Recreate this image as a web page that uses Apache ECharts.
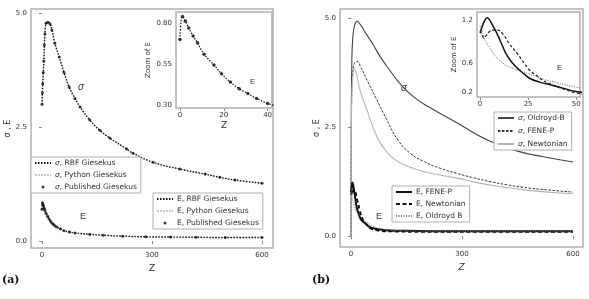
<!DOCTYPE html>
<html>
<head>
<meta charset="utf-8">
<script src="https://cdn.jsdelivr.net/npm/echarts@6/dist/echarts.min.js"></script>
<style>
  html, body { margin: 0; padding: 0; background: #fff; }
  #chart { width: 589px; height: 299px; }
</style>
</head>
<body>
<div id="chart"></div>
<script>
// ---- panel (a): Giesekus, RBF vs Python vs published ----
const aSigmaZ = [0, 1, 2, 3.5, 5, 6.5, 8, 11, 16, 22, 27, 35, 47, 60, 74, 90, 104, 130, 158, 185, 231, 248, 303, 376, 445, 485, 526, 600];
const aSigma = [3.0, 3.25, 3.45, 3.7, 3.95, 4.3, 4.55, 4.78, 4.8, 4.76, 4.63, 4.34, 4.04, 3.7, 3.38, 3.13, 2.94, 2.66, 2.43, 2.26, 2.02, 1.93, 1.73, 1.58, 1.47, 1.40, 1.34, 1.27];
const aEZ = [0, 1.2, 2.5, 4, 6, 8, 11, 15.5, 19, 23, 27, 31, 35, 40, 50, 60, 75, 90, 130, 167, 220, 283, 350, 420, 500, 600];
const aE = [0.70, 0.84, 0.81, 0.77, 0.72, 0.68, 0.61, 0.544, 0.49, 0.44, 0.40, 0.37, 0.34, 0.31, 0.27, 0.23, 0.20, 0.18, 0.15, 0.13, 0.11, 0.095, 0.09, 0.085, 0.08, 0.08];

// ---- panel (b): Oldroyd-B / FENE-P / Newtonian ----
const bSigOldZ = [0, 0.5, 2, 5, 10, 16, 25, 40, 59, 80, 105, 132, 168, 213, 286, 370, 450, 520, 600];
const bSigOld = [0, 2.5, 4.0, 4.6, 4.85, 4.93, 4.85, 4.65, 4.4, 4.1, 3.8, 3.5, 3.2, 2.95, 2.6, 2.2, 1.95, 1.82, 1.70];
const bSigFeneZ = [0, 0.5, 2, 5, 10, 16, 25, 43, 70, 97, 127, 160, 195, 240, 286, 330, 376, 420, 465, 530, 600];
const bSigFene = [0, 2.0, 3.3, 3.8, 3.98, 4.01, 3.9, 3.58, 3.12, 2.66, 2.2, 1.9, 1.72, 1.56, 1.44, 1.34, 1.25, 1.18, 1.12, 1.06, 1.01];
const bSigNewtZ = [0, 0.5, 2, 5, 8, 15, 24, 43, 59, 78, 100, 124, 160, 195, 240, 286, 330, 376, 480, 600];
const bSigNewt = [0, 2.0, 3.3, 3.7, 3.85, 3.7, 3.35, 2.89, 2.5, 2.15, 1.9, 1.72, 1.58, 1.48, 1.4, 1.33, 1.25, 1.17, 1.05, 0.97];

const bEFeneZ = [0, 1, 2, 3.7, 6, 9, 11.5, 14, 17, 19.5, 23, 26, 31, 37, 44, 50, 60, 80, 105, 150, 250, 400, 600];
const bEFene = [1.02, 1.1, 1.17, 1.23, 1.15, 1.0, 0.85, 0.71, 0.6, 0.53, 0.45, 0.39, 0.34, 0.30, 0.25, 0.21, 0.18, 0.15, 0.13, 0.12, 0.11, 0.11, 0.11];
const bENewtZ = [0, 1, 2, 3, 5, 7, 9, 12, 15, 19.5, 23, 26, 30, 33, 38, 44, 50, 60, 80, 105, 200, 400, 600];
const bENewt = [1.05, 1.0, 0.95, 0.98, 1.04, 1.06, 1.06, 1.0, 0.88, 0.73, 0.6, 0.50, 0.42, 0.36, 0.30, 0.24, 0.19, 0.15, 0.12, 0.11, 0.1, 0.1, 0.1];
const bEOldZ = [0, 1, 2, 3, 5, 8, 12, 17, 22.6, 28, 33, 40, 50, 60, 80, 105, 150, 250, 600];
const bEOld = [1.12, 1.05, 0.97, 0.9, 0.82, 0.7, 0.6, 0.53, 0.48, 0.43, 0.38, 0.33, 0.27, 0.22, 0.17, 0.14, 0.12, 0.11, 0.11];

// tick labels
const aXTicks = [0, 300, 600];
const aYTicks = [0, 2.5, 5];
const aInsetXTicks = [0, 20, 40];
const aInsetYTicks = [0.30, 0.55, 0.80];
const bXTicks = [0, 300, 600];
const bYTicks = [0, 2.5, 5];
const bInsetXTicks = [0, 25, 50];
const bInsetYTicks = [0.2, 0.6, 1.2];

const zip = (xs, ys) => xs.map((x, i) => [x, ys[i]]);

const FRAME = "#b0b0b0";
const TXT = "#333";
// small dot for the "Published" legend entries
const DOT_ICON = "image://data:image/svg+xml;charset=utf-8," + encodeURIComponent(
  '<svg xmlns="http://www.w3.org/2000/svg" width="16" height="7"><circle cx="8" cy="3.5" r="1.5" fill="#111"/></svg>');

function xAx(grid, min, max, ticks, name, nameGap, italic) {
  return {
    gridIndex: grid, type: "value", min: min, max: max,
    axisLine: { show: false }, splitLine: { show: false },
    axisTick: { customValues: ticks, length: 3, lineStyle: { color: "#888" } },
    axisLabel: { customValues: ticks, fontSize: 7, color: TXT, margin: 4 },
    name: name, nameLocation: "middle", nameGap: nameGap,
    nameTextStyle: { fontSize: 9, color: TXT, fontStyle: italic ? "italic" : "normal" },
  };
}
function yAx(grid, min, max, ticks, digits, name, nameGap, nameSize) {
  return {
    gridIndex: grid, type: "value", min: min, max: max,
    axisLine: { show: false }, splitLine: { show: false },
    axisTick: { customValues: ticks, length: 3, lineStyle: { color: "#888" } },
    axisLabel: { customValues: ticks, fontSize: 7, color: TXT, margin: 4,
      formatter: (v) => v.toFixed(digits) },
    name: name, nameLocation: "middle", nameGap: nameGap, nameRotate: 90,
    nameTextStyle: { fontSize: nameSize, color: TXT },
  };
}
// line entries: hide the symbol ECharts puts in the middle of the line icon
const lineItem = (n) => ({ name: n, itemStyle: { opacity: 0 } });
const dotItem = (n) => ({ name: n, icon: DOT_ICON });

function legendBox(left, top, items, gap) {
  return {
    orient: "vertical", left: left, top: top, data: items,
    itemWidth: 16, itemHeight: 7, itemGap: gap, padding: [2, 4, 2, 3],
    borderColor: FRAME, borderWidth: 1, backgroundColor: "#fff",
    selectedMode: false,
    textStyle: { fontSize: 7.5, color: TXT, padding: [0, 0, 0, -1],
      rich: { i: { fontSize: 7.5, fontStyle: "italic", color: TXT } } },
    formatter: (n) => n.replace("σ", "{i|σ}"),
  };
}
function line(name, xi, data, color, width, type, z) {
  return {
    name: name, type: "line", xAxisIndex: xi, yAxisIndex: xi, data: data,
    symbol: "none", smooth: true, z: z || 2,
    lineStyle: { color: color, width: width, type: type },
    itemStyle: { color: color },
  };
}
function dots(name, xi, data, size) {
  return {
    name: name, type: "scatter", xAxisIndex: xi, yAxisIndex: xi, data: data,
    symbol: "circle", symbolSize: size, itemStyle: { color: "#111" }, z: 4,
  };
}

const chart = echarts.init(document.getElementById("chart"));
chart.setOption({
  animation: false,
  textStyle: { fontFamily: "DejaVu Sans" },
  grid: [
    { left: 31, top: 9, width: 242, height: 239, show: true, borderColor: FRAME, borderWidth: 1.5 },
    { left: 176, top: 12, width: 96, height: 96, show: true, borderColor: FRAME, borderWidth: 1.5, backgroundColor: "#fff", z: 3 },
    { left: 340, top: 9, width: 243, height: 238, show: true, borderColor: FRAME, borderWidth: 1.5 },
    { left: 477, top: 12, width: 103, height: 85, show: true, borderColor: FRAME, borderWidth: 1.5, backgroundColor: "#fff", z: 3 },
  ],
  xAxis: [
    xAx(0, -30, 630, aXTicks, "Z", 15, false),
    xAx(1, -1.8, 42, aInsetXTicks, "Z", 13, false),
    xAx(2, -30, 627, bXTicks, "Z", 15, true),
    xAx(3, -1.6, 52, bInsetXTicks, "", 10, false),
  ],
  yAxis: [
    yAx(0, -0.15, 5.09, aYTicks, 1, "σ , E", 17, 8),
    yAx(1, 0.282, 0.867, aInsetYTicks, 2, "Zoom of E", 24, 7),
    yAx(2, -0.25, 5.21, bYTicks, 1, "σ , E", 16, 8),
    yAx(3, 0.134, 1.31, bInsetYTicks, 1, "Zoom of E", 17, 7),
  ],
  legend: [
    legendBox(31, 157, [lineItem("σ, RBF Giesekus"), lineItem("σ, Python Giesekus"), dotItem("σ, Published Giesekus")], 4),
    legendBox(153, 193, [lineItem("E, RBF Giesekus"), lineItem("E, Python Giesekus"), dotItem("E, Published Giesekus")], 4),
    legendBox(494, 112, [lineItem("σ, Oldroyd-B"), lineItem("σ, FENE-P"), lineItem("σ, Newtonian")], 5),
    legendBox(392, 186, [lineItem("E, FENE-P"), lineItem("E, Newtonian"), lineItem("E, Oldroyd B")], 4),
  ],
  series: [
    // (a) main
    line("σ, Python Giesekus", 0, zip(aSigmaZ, aSigma), "#c8c8c8", 1, [2, 1], 1),
    line("σ, RBF Giesekus", 0, zip(aSigmaZ, aSigma), "#111", 1.4, [1.5, 1.5]),
    dots("σ, Published Giesekus", 0, zip(aSigmaZ, aSigma), 3),
    line("E, Python Giesekus", 0, zip(aEZ, aE), "#c8c8c8", 1, [2, 1], 1),
    line("E, RBF Giesekus", 0, zip(aEZ, aE), "#111", 1.4, [1.5, 1.5]),
    dots("E, Published Giesekus", 0, zip(aEZ, aE), 3),
    // (a) inset
    line("E, RBF Giesekus", 1, zip(aEZ, aE), "#111", 1.2, [1.5, 1.5], 5),
    dots("E, Published Giesekus", 1, zip(aEZ, aE), 3.5),
    // (b) main
    line("σ, Oldroyd-B", 2, zip(bSigOldZ, bSigOld), "#444", 1.1, "solid"),
    line("σ, FENE-P", 2, zip(bSigFeneZ, bSigFene), "#333", 1, [2.5, 1.5]),
    line("σ, Newtonian", 2, zip(bSigNewtZ, bSigNewt), "#b4b4b4", 1.1, "solid"),
    line("E, FENE-P", 2, zip(bEFeneZ, bEFene), "#111", 2, "solid", 3),
    line("E, Newtonian", 2, zip(bENewtZ, bENewt), "#111", 2, [4, 2.5], 3),
    line("E, Oldroyd B", 2, zip(bEOldZ, bEOld), "#777", 1, [1, 1.5], 3),
    // (b) inset
    line("E, FENE-P", 3, zip(bEFeneZ, bEFene), "#111", 1.5, "solid", 5),
    line("E, Newtonian", 3, zip(bENewtZ, bENewt), "#222", 1.2, [3, 2], 5),
    line("E, Oldroyd B", 3, zip(bEOldZ, bEOld), "#555", 1, [1, 1.5], 5),
  ],
  graphic: [
    { type: "text", left: 78, top: 82, style: { text: "σ", fontSize: 10, fontStyle: "italic", fill: TXT } },
    { type: "text", left: 80, top: 212, style: { text: "E", fontSize: 9, fill: TXT } },
    { type: "text", left: 250, top: 78, z: 10, style: { text: "E", fontSize: 8, fill: TXT } },
    { type: "text", left: 401, top: 83, style: { text: "σ", fontSize: 10, fontStyle: "italic", fill: TXT } },
    { type: "text", left: 376, top: 212, style: { text: "E", fontSize: 9, fill: TXT } },
    { type: "text", left: 557, top: 64, z: 10, style: { text: "E", fontSize: 8, fill: TXT } },
    { type: "text", left: 2, top: 275, style: { text: "(a)", fontSize: 11, fontWeight: "bold", fontFamily: "DejaVu Serif", fill: "#111" } },
    { type: "text", left: 312, top: 275, style: { text: "(b)", fontSize: 11, fontWeight: "bold", fontFamily: "DejaVu Serif", fill: "#111" } },
  ],
});
</script>
</body>
</html>
